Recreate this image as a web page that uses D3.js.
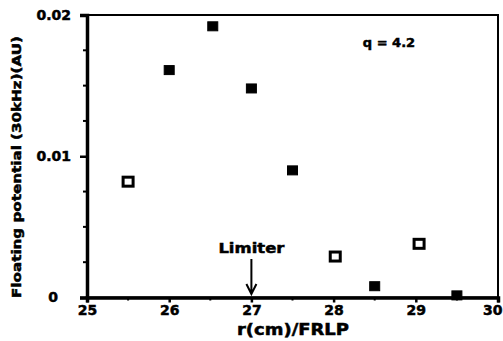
<!DOCTYPE html>
<html>
<head>
<meta charset="utf-8">
<script src="https://cdn.jsdelivr.net/npm/d3@7"></script>
<style>
  body { margin: 0; background: #fff; }
  text { font-family: "DejaVu Sans", sans-serif; font-weight: bold; fill: #000; stroke: #000; stroke-width: 0.5px; }
</style>
</head>
<body>
<svg id="chart" width="503" height="341"></svg>
<script>
// radius (cm) and floating potential amplitude at 30 kHz (AU)
const radius = [25.5, 26.0, 26.53, 27.0, 27.5, 28.02, 28.5, 29.04, 29.5];
const amplitude = [0.0082, 0.0161, 0.0192, 0.0148, 0.0090, 0.0029, 0.0008, 0.0038, 0.00015];
const openMarker = [true, false, false, false, false, true, false, true, false];

const xTicks = [25, 26, 27, 28, 29, 30];
const yTicks = [0, 0.01, 0.02];
const limiterPos = 27;

const svg = d3.select('#chart');

const margin = {top: 15, right: 5, bottom: 43.5, left: 87};
const width = +svg.attr('width');
const height = +svg.attr('height');

const x = d3.scaleLinear().domain([25, 30]).range([margin.left, width - margin.right]);
const y = d3.scaleLinear().domain([0, 0.02]).range([height - margin.bottom, margin.top]);

const g = svg.append('g');

// frame
g.append('rect')
    .attr('x', x(25)).attr('y', y(0.02))
    .attr('width', x(30) - x(25)).attr('height', y(0) - y(0.02))
    .attr('fill', 'none').attr('stroke', '#000').attr('stroke-width', 2);

// minor ticks
const xMinor = d3.range(25.5, 30, 1);
g.selectAll('.xminor').data(xMinor).enter().append('line')
    .attr('x1', d => x(d)).attr('x2', d => x(d))
    .attr('y1', y(0)).attr('y2', y(0) + 3)
    .attr('stroke', '#000').attr('stroke-width', 2);

const yMinor = d3.range(0.0025, 0.02, 0.0025).filter(d => Math.abs(d - 0.01) > 1e-6);
g.selectAll('.yminor').data(yMinor).enter().append('line')
    .attr('x1', x(25) - 4).attr('x2', x(25))
    .attr('y1', d => y(d)).attr('y2', d => y(d))
    .attr('stroke', '#000').attr('stroke-width', 2);

// x axis
const xAxis = g.append('g')
    .attr('transform', `translate(0,${y(0)})`)
    .call(d3.axisBottom(x).tickValues(xTicks).tickSize(5).tickPadding(3).tickFormat(d3.format('d')));
xAxis.select('.domain').attr('stroke-width', 3.5);
xAxis.selectAll('.tick line').attr('stroke-width', 2.5);
xAxis.selectAll('.tick text')
    .style('font-size', '14px').style('font-family', '"DejaVu Sans", sans-serif').style('font-weight', 'bold')
    .attr('text-anchor', d => d === 30 ? 'end' : 'middle')
    .attr('x', d => d === 30 ? 4 : 0);

// y axis
const yAxis = g.append('g')
    .attr('transform', `translate(${x(25)},0)`)
    .call(d3.axisLeft(y).tickValues(yTicks).tickSize(7).tickPadding(9)
        .tickFormat(d => d === 0 ? '0' : d3.format('.2f')(d)));
yAxis.select('.domain').attr('stroke-width', 3.5);
yAxis.selectAll('.tick line').attr('stroke-width', 2.5);
yAxis.selectAll('.tick text')
    .style('font-size', '14px').style('font-family', '"DejaVu Sans", sans-serif').style('font-weight', 'bold')
    .attr('x', d => d === 0 ? -29 : -16);

// data markers
g.selectAll('.pt').data(radius).enter().append('rect')
    .attr('x', d => x(d) - 5)
    .attr('y', (d, i) => y(amplitude[i]) - 4.5)
    .attr('width', 10).attr('height', 9)
    .attr('fill', (d, i) => openMarker[i] ? '#fff' : '#000')
    .attr('stroke', '#000')
    .attr('stroke-width', (d, i) => openMarker[i] ? 3 : 1);

// labels
svg.append('text')
    .attr('x', 389).attr('y', 47)
    .attr('text-anchor', 'middle')
    .style('font-size', '13px')
    .text('q = 4.2');

svg.append('text')
    .attr('x', x(limiterPos)).attr('y', 253)
    .attr('text-anchor', 'middle')
    .style('font-size', '14px')
    .attr('textLength', 66).attr('lengthAdjust', 'spacingAndGlyphs')
    .text('Limiter');

const ax = x(limiterPos);
svg.append('path')
    .attr('d', `M${ax},259 L${ax},294 M${ax - 5},284 L${ax},294 L${ax + 5},284`)
    .attr('fill', 'none').attr('stroke', '#000').attr('stroke-width', 2);

svg.append('text')
    .attr('x', 293).attr('y', 335)
    .attr('text-anchor', 'middle')
    .style('font-size', '15px')
    .attr('textLength', 112).attr('lengthAdjust', 'spacingAndGlyphs')
    .text('r(cm)/FRLP');

svg.append('text')
    .attr('transform', 'translate(21,167) rotate(-90)')
    .attr('text-anchor', 'middle')
    .style('font-size', '13px')
    .attr('textLength', 262).attr('lengthAdjust', 'spacingAndGlyphs')
    .text('Floating potential (30kHz)(AU)');
</script>
</body>
</html>
